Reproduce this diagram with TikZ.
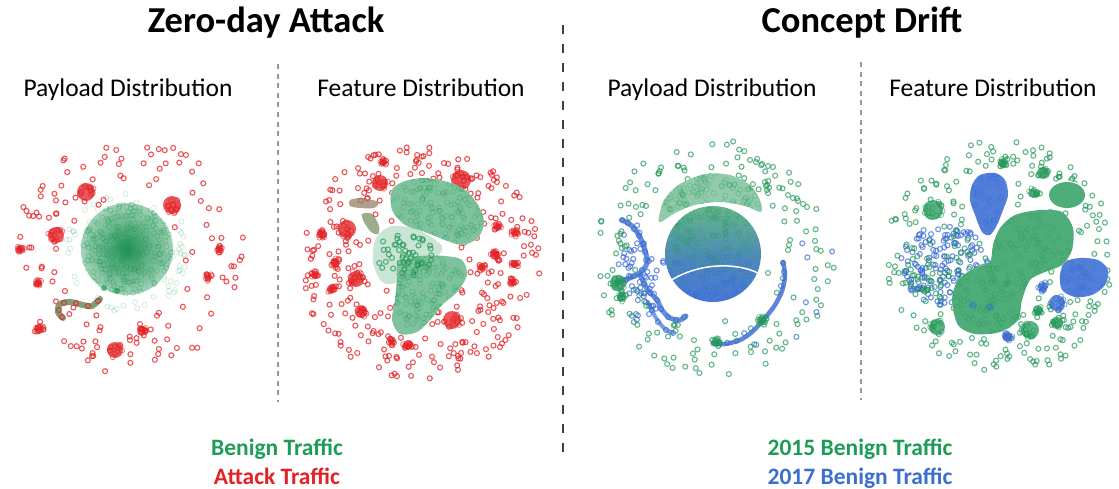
\documentclass[tikz,border=0pt]{standalone}
\usepackage{fontspec}
\setmainfont{Carlito}
\definecolor{bgreen}{RGB}{34,152,88}
\definecolor{ared}{RGB}{226,32,36}
\definecolor{nblue}{RGB}{52,104,210}
\definecolor{tgreen}{RGB}{28,156,84}
\definecolor{tred}{RGB}{228,34,38}
\definecolor{tblue}{RGB}{58,110,208}
\definecolor{wormc}{RGB}{110,140,95}
\definecolor{brownc}{RGB}{150,128,100}
\newcommand\scat[7]{\foreach \k in {1,...,#5}{\pgfmathsetmacro\mya{360*rnd}\pgfmathsetmacro\myr{#7+(1-#7)*sqrt(rnd)}\path[#6] ({#1+#3*\myr*cos(\mya)},{#2+#4*\myr*sin(\mya)}) circle (2.5pt);}}
\newcommand\clus[4]{\fill[#4, opacity=0.75] (#1,#2) circle (#3pt);\scat{#1}{#2}{#3}{#3}{12}{draw=#4, line width=0.8pt, draw opacity=0.6}{0}}
\tikzset{
  title/.style={font=\fontsize{36.5}{40}\selectfont\bfseries, anchor=base, inner sep=0pt},
  sub/.style={font=\fontsize{25.5}{30}\selectfont, anchor=base, inner sep=0pt},
  leg/.style={font=\fontsize{23.5}{26}\selectfont\bfseries, anchor=base, inner sep=0pt},
  rc/.style={draw=ared, line width=1.1pt, draw opacity=0.75},
  gc/.style={draw=bgreen, line width=1.1pt, draw opacity=0.7},
  bc/.style={draw=nblue, line width=1.1pt, draw opacity=0.7},
  gcf/.style={draw=bgreen, line width=0.8pt, draw opacity=0.2},
  gtex/.style={draw=bgreen, line width=0.7pt, draw opacity=0.3},
  btex/.style={draw=nblue, line width=0.7pt, draw opacity=0.3},
  maindash/.style={dash pattern=on 9pt off 10pt, line width=2.6pt, draw=black!75},
  subdash/.style={dash pattern=on 5pt off 4.6pt, line width=1.3pt, draw=black!40},
}
\begin{document}
\begin{tikzpicture}[x=1pt,y=-1pt]
\useasboundingbox (0,0) rectangle (1119,489);
\pgfmathsetseed{11}
% ---------- separators
\coordinate (m1) at (563,25); \coordinate (m2) at (563,458);
\coordinate (s1) at (278,64); \coordinate (s2) at (278,402);
\coordinate (r1) at (861,62); \coordinate (r2) at (861,400);
\draw[maindash] (m1) -- (m2);
\draw[subdash] (s1) -- (s2);
\draw[subdash] (r1) -- (r2);
% ---------- texts
\node[title] (zt) at (266,33) {Zero-day Attack};
\node[title] (ct) at (862,33) {Concept Drift};
\node[sub] (p1) at (128,97) {Payload Distribution};
\node[sub] (f1) at (421,97) {Feature Distribution};
\node[sub] (p2) at (712,97) {Payload Distribution};
\node[sub] (f2) at (993,97) {Feature Distribution};
\node[leg, text=tgreen] (l1) at (277,455) {Benign Traffic};
\node[leg, text=tred] (l2) at (277,484) {Attack Traffic};
\node[leg, text=tgreen] (l3) at (860,455) {2015 Benign Traffic};
\node[leg, text=tblue] (l4) at (860,484) {2017 Benign Traffic};
% =========== Panel 1 : payload, zero-day
\scat{128}{256}{118}{118}{130}{rc}{0.42}
\scat{127}{252}{64}{60}{60}{gcf}{0.7}
\fill[white] (127,249) circle (47pt);
\shade[inner color=bgreen!95!black, outer color=bgreen!42!white] (127,249) circle (46pt);
\begin{scope}
\clip (127,249) circle (47pt);
\scat{127}{249}{46}{46}{300}{gtex}{0}
\end{scope}
\fill[bgreen, opacity=0.7] (104,288) circle (3pt);
\fill[bgreen, opacity=0.7] (117,291) circle (3pt);
\draw[line width=6pt, draw=wormc, opacity=0.85, line cap=round] plot[smooth] coordinates {(100,299) (92,306) (83,305) (70,302) (60,304) (58,312) (63,318)};
\foreach \p in {(98,301),(88,306),(76,303),(64,303),(59,310),(62,317)} \path[rc] \p circle (2.5pt);
\clus{86}{192}{9}{ared}
\clus{172}{205}{9}{ared}
\clus{56}{235}{8}{ared}
\clus{21}{249}{4}{ared}
\clus{38}{283}{4}{ared}
\clus{219}{249}{4}{ared}
\clus{208}{277}{4}{ared}
\clus{142}{331}{5}{ared}
\clus{39}{329}{5}{ared}
\clus{115}{350}{8}{ared}
% =========== Panel 2 : feature, zero-day
\scat{420}{262}{120}{118}{300}{rc}{0.25}
\clus{380}{183}{8}{ared}
\clus{461}{180}{10}{ared}
\clus{347}{229}{9}{ared}
\clus{322}{234}{5}{ared}
\clus{335}{263}{5}{ared}
\clus{356}{279}{8}{ared}
\clus{315}{275}{4}{ared}
\clus{331}{289}{4}{ared}
\clus{361}{312}{6}{ared}
\clus{383}{162}{4}{ared}
\clus{452}{320}{9}{ared}
\clus{497}{227}{4}{ared}
\clus{515}{233}{4}{ared}
\clus{495}{255}{5}{ared}
\clus{515}{264}{4}{ared}
\clus{482}{267}{4}{ared}
\clus{513}{282}{4}{ared}
\clus{392}{342}{4}{ared}
\clus{408}{345}{5}{ared}
\path[save path=\bA] plot[smooth cycle] coordinates {(392,190) (405,181) (425,178) (448,182) (465,190) (478,205) (484,222) (478,238) (462,245) (445,240) (425,232) (405,225) (392,210)};
\path[save path=\bB] plot[smooth cycle] coordinates {(398,262) (420,256) (445,256) (462,260) (467,275) (457,292) (442,305) (432,318) (417,332) (400,334) (392,320) (395,300) (397,280)};
\path[save path=\bC] plot[smooth cycle] coordinates {(376,238) (392,226) (418,230) (442,246) (434,258) (405,262) (397,282) (382,282) (373,262)};
\fill[white, use path=\bC];
\fill[bgreen!25!white, use path=\bC];
\fill[white, use path=\bA];
\fill[bgreen!58!white, use path=\bA];
\fill[white, use path=\bB];
\fill[bgreen!58!white, use path=\bB];
\begin{scope}\clip[use path=\bA]; \scat{437}{212}{50}{35}{170}{gtex}{0} \end{scope}
\begin{scope}\clip[use path=\bB]; \scat{430}{293}{40}{40}{170}{gtex}{0} \end{scope}
\scat{405}{255}{28}{22}{50}{gc}{0}
\fill[brownc, opacity=0.75] plot[smooth cycle] coordinates {(350,200) (362,198) (378,202) (374,208) (360,208) (350,206)};
\fill[brownc!70!bgreen, opacity=0.7] plot[smooth cycle] coordinates {(362,214) (372,214) (379,226) (378,234) (371,232) (364,222)};
% =========== Panel 3 : payload, concept drift
\scat{715}{258}{120}{118}{160}{gc}{0.5}
\scat{715}{258}{120}{118}{10}{bc}{0.5}
\fill[white] (713,254) circle (50pt);
\shade[top color=bgreen!70!white, bottom color=nblue!90!white, middle color=nblue!65!bgreen!85!white] (713,254) circle (48pt);
\begin{scope}
\clip (713,254) circle (48pt);
\scat{713}{235}{48}{28}{120}{gtex}{0}
\scat{713}{278}{48}{26}{120}{btex}{0}
\end{scope}
\draw[white, line width=1.5pt] (670,281) .. controls (698,263) and (735,262) .. (758,273);
\path[save path=\cap] plot[smooth cycle] coordinates {(659,222) (664,200) (680,184) (705,174) (730,175) (750,185) (760,200) (761,212) (745,206) (720,202) (695,205) (675,213)};
\fill[white, use path=\cap];
\fill[bgreen!50!white, use path=\cap];
\begin{scope}\clip[use path=\cap]; \scat{710}{195}{52}{25}{140}{gtex}{0} \end{scope}
\draw[line width=5pt, draw=nblue, opacity=0.75, line cap=round] plot[smooth] coordinates {(622,220) (632,226) (640,237) (645,250) (647,263) (640,273) (625,280) (617,283)};
\draw[line width=5pt, draw=nblue, opacity=0.75, line cap=round] plot[smooth] coordinates {(640,275) (648,290) (657,300) (662,310) (670,318) (680,320) (686,316)};
\draw[line width=4pt, draw=nblue, opacity=0.65, line cap=round] plot[smooth] coordinates {(648,302) (656,318) (664,328) (672,333)};
\foreach \p in {(622,220),(628,223),(634,229),(639,236),(643,244),(645,252),(646,260),(642,270),(634,276),(626,280),(644,284),(650,293),(657,300),(661,309),(668,317),(676,320),(684,317),(652,310),(658,322),(666,330),(673,333)} \path[bc] \p circle (2.5pt);
\scat{640}{270}{25}{50}{50}{bc}{0}
\draw[line width=4.5pt, draw=nblue, opacity=0.8, line cap=round] plot[smooth] coordinates {(783,262) (785,276) (782,291) (775,305) (765,318) (752,332) (740,340) (725,344) (713,343)};
\foreach \p in {(783,263),(784,272),(781,286)} \path[bc] \p circle (2.5pt);
\clus{618}{283}{8}{bgreen}
\clus{622}{297}{5}{bgreen}
\clus{762}{320}{5}{bgreen}
\clus{716}{342}{5}{bgreen}
\foreach \p in {(750,160),(756,162),(762,164),(768,166),(773,167),(765,182),(766,186),(767,190),(768,193),(788,195),(793,198),(798,201),(803,204),(807,207),(790,240),(789,245),(788,250),(768,273)} \path[gc] \p circle (2.5pt);
% =========== Panel 4 : feature, concept drift
\scat{1000}{258}{115}{120}{260}{gc}{0.35}
\scat{945}{265}{45}{40}{170}{bc}{0}
\scat{945}{265}{45}{40}{50}{gc}{0}
\path[save path=\gA] plot[smooth cycle] coordinates {(952,300) (958,280) (975,268) (990,262) (993,245) (1000,228) (1015,215) (1040,210) (1062,212) (1073,228) (1072,250) (1062,265) (1045,272) (1030,280) (1022,300) (1018,320) (1000,332) (975,334) (958,325)};
\fill[white, use path=\gA];
\fill[bgreen!80!white, use path=\gA];
\begin{scope}\clip[use path=\gA]; \scat{1012}{272}{65}{65}{300}{gtex}{0} \end{scope}
\path[save path=\bT] plot[smooth cycle] coordinates {(972,185) (980,175) (995,173) (1005,180) (1008,195) (1003,210) (997,225) (990,235) (982,232) (975,215) (970,200)};
\fill[white, use path=\bT];
\fill[nblue!85!white, use path=\bT];
\begin{scope}\clip[use path=\bT]; \scat{989}{203}{22}{32}{60}{btex}{0} \end{scope}
\path[save path=\bR] plot[smooth cycle] coordinates {(1060,275) (1065,262) (1080,258) (1098,260) (1108,270) (1105,285) (1092,295) (1075,297) (1062,290)};
\fill[white, use path=\bR];
\fill[nblue!85!white, use path=\bR];
\begin{scope}\clip[use path=\bR]; \scat{1084}{277}{26}{20}{50}{btex}{0} \end{scope}
\fill[white] (1067,195) ellipse (19pt and 14pt);
\fill[bgreen!80!white] (1067,195) ellipse (18pt and 13pt);
\clus{933}{210}{10}{bgreen}
\clus{1003}{163}{5}{bgreen}
\clus{1043}{173}{6}{bgreen}
\clus{1033}{193}{5}{bgreen}
\clus{1030}{330}{9}{bgreen}
\clus{937}{327}{8}{bgreen}
\clus{1038}{310}{5}{bgreen}
\clus{1057}{323}{6}{bgreen}
\clus{1008}{337}{5}{nblue}
\clus{1057}{303}{8}{nblue}
\clus{1043}{287}{5}{nblue}
\fill[nblue, opacity=0.4] (973,305) circle (4pt);
\fill[nblue, opacity=0.4] (990,307) circle (4pt);
\end{tikzpicture}
\end{document}
